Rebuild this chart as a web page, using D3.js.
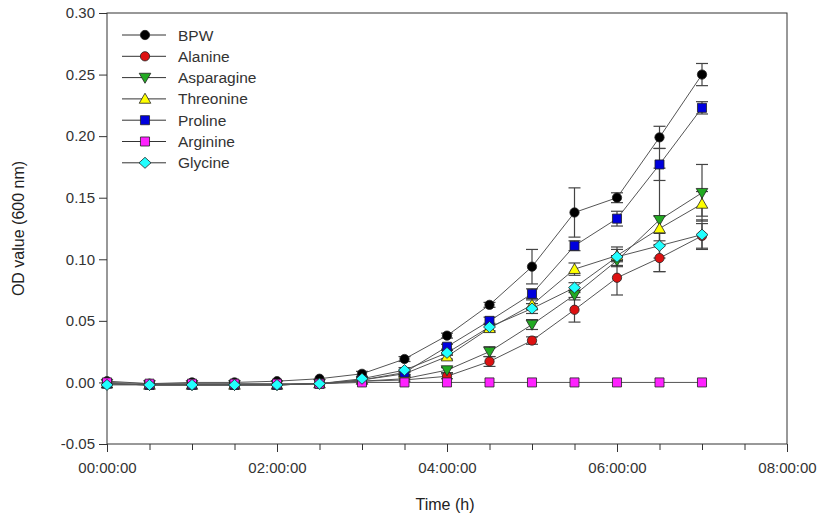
<!DOCTYPE html>
<html><head><meta charset="utf-8">
<script src="https://cdn.jsdelivr.net/npm/d3@7"></script>
<style>body{margin:0;background:#fff}svg{display:block}</style>
</head><body>
<script>
const timeHours = [0,0.5,1,1.5,2,2.5,3,3.5,4,4.5,5,5.5,6,6.5,7];
const seriesNames = ["BPW","Alanine","Asparagine","Threonine","Proline","Arginine","Glycine"];
const bpw        = [0.001,-0.001,0.000,0.000,0.001,0.003,0.007,0.019,0.038,0.063,0.094,0.138,0.150,0.199,0.250];
const alanine    = [-0.001,-0.002,-0.002,-0.002,-0.002,-0.001,0.001,0.002,0.005,0.017,0.034,0.059,0.085,0.101,0.119];
const asparagine = [-0.001,-0.002,-0.002,-0.002,-0.002,-0.001,0.001,0.003,0.010,0.025,0.047,0.071,0.099,0.132,0.154];
const threonine  = [-0.001,-0.002,-0.002,-0.002,-0.002,-0.001,0.002,0.007,0.021,0.044,0.063,0.092,0.103,0.125,0.145];
const proline    = [-0.001,-0.002,-0.002,-0.002,-0.002,-0.001,0.002,0.008,0.029,0.050,0.072,0.111,0.133,0.177,0.223];
const arginine   = [0.000,-0.001,-0.001,-0.001,-0.001,-0.001,0.000,0.000,0.000,0.000,0.000,0.000,0.000,0.000,0.000];
const glycine    = [-0.002,-0.002,-0.002,-0.002,-0.002,-0.001,0.003,0.010,0.024,0.045,0.060,0.077,0.102,0.111,0.120];
const bpwErr        = [0.001,0.001,0.001,0.001,0.001,0.001,0.002,0.002,0.002,0.002,0.014,0.020,0.004,0.009,0.009];
const alanineErr    = [0.001,0.001,0.001,0.001,0.001,0.001,0.001,0.001,0.002,0.004,0.003,0.010,0.014,0.011,0.010];
const asparagineErr = [0.001,0.001,0.001,0.001,0.001,0.001,0.001,0.002,0.002,0.004,0.004,0.004,0.004,0.042,0.023];
const threonineErr  = [0.001,0.001,0.001,0.001,0.001,0.001,0.001,0.002,0.002,0.003,0.004,0.005,0.005,0.010,0.010];
const prolineErr    = [0.001,0.001,0.001,0.001,0.001,0.001,0.001,0.002,0.002,0.003,0.004,0.004,0.006,0.013,0.005];
const arginineErr   = [0,0,0,0,0,0,0,0,0,0,0,0,0,0,0];
const glycineErr    = [0.001,0.001,0.001,0.001,0.001,0.001,0.001,0.002,0.002,0.003,0.004,0.004,0.008,0.010,0.012];
const yTicks = [-0.05,0,0.05,0.10,0.15,0.20,0.25,0.30];
const yTickLabels = ["-0.05","0.00","0.05","0.10","0.15","0.20","0.25","0.30"];
const xTicks = [0,2,4,6,8];
const xTickLabels = ["00:00:00","02:00:00","04:00:00","06:00:00","08:00:00"];
const xMinorTicks = [0,0.5,1,1.5,2,2.5,3,3.5,4,4.5,5,5.5,6,6.5,7,7.5,8];

const values = [bpw,alanine,asparagine,threonine,proline,arginine,glycine];
const errors = [bpwErr,alanineErr,asparagineErr,threonineErr,prolineErr,arginineErr,glycineErr];
const colors = ["#000000","#dd1111","#22aa22","#ffff00","#0000dd","#ff22ff","#22ffff"];
const shapes = ["circle","circle","tridown","triup","square","square","diamond"];

const W=828,H=517;
const L=107,R=787,T=13,B=444;
const x = d3.scaleLinear().domain([0,8]).range([L,R]);
const y = d3.scaleLinear().domain([-0.05,0.30]).range([B,T]);
const svg = d3.select("body").append("svg").attr("width",W).attr("height",H);
const font = "'Liberation Sans', Arial, sans-serif";

function symPath(s){
  switch(s){
    case "circle": return d3.symbol(d3.symbolCircle,68)();
    case "tridown": return d3.symbol(d3.symbolTriangle,58)();
    case "triup": return d3.symbol(d3.symbolTriangle,58)();
    case "square": return d3.symbol(d3.symbolSquare,82)();
    case "diamond": return "M0,-5.5L6,0L0,5.5L-6,0Z";
  }
}
function drawMarker(g,i,cx,cy){
  const s = shapes[i];
  let tr = `translate(${cx},${cy})`;
  if(s==="tridown") tr += " rotate(180) translate(0,1)";
  if(s==="triup") tr += " translate(0,1)";
  g.append("path").attr("d",symPath(s)).attr("transform",tr)
    .attr("fill",colors[i]).attr("stroke","#222").attr("stroke-width",0.8);
}

// frame
svg.append("rect").attr("x",L).attr("y",T).attr("width",R-L).attr("height",B-T)
  .attr("fill","none").attr("stroke","#333").attr("stroke-width",1);

// axes
const yAxis = d3.axisLeft(y).tickValues(yTicks).tickSize(8).tickFormat((d,i)=>yTickLabels[i]);
const ga = svg.append("g").attr("transform",`translate(${L},0)`).call(yAxis);
ga.select(".domain").remove();
ga.selectAll("line").attr("stroke","#333");
ga.selectAll("text").attr("font-family",font).attr("font-size",15).attr("fill","#333").attr("dx",-1);

const xMinor = d3.axisBottom(x).tickValues(xMinorTicks).tickSize(6).tickFormat("");
const gm = svg.append("g").attr("transform",`translate(0,${B})`).call(xMinor);
gm.select(".domain").remove(); gm.selectAll("line").attr("stroke","#333");
const xAxis = d3.axisBottom(x).tickValues(xTicks).tickSize(8).tickFormat((d,i)=>xTickLabels[i]);
const gx = svg.append("g").attr("transform",`translate(0,${B})`).call(xAxis);
gx.select(".domain").remove();
gx.selectAll("line").attr("stroke","#333");
gx.selectAll("text").attr("font-family",font).attr("font-size",15).attr("fill","#333").attr("dy","1.2em");

svg.append("text").attr("x",(L+R)/2-2).attr("y",510).attr("text-anchor","middle")
  .attr("font-family",font).attr("font-size",16).attr("fill","#222").text("Time (h)");
svg.append("text").attr("transform",`translate(24,${(T+B)/2}) rotate(-90)`).attr("text-anchor","middle")
  .attr("font-family",font).attr("font-size",16).attr("fill","#222").text("OD value (600 nm)");

// lines
const line = d3.line().x((d,i)=>x(timeHours[i])).y(d=>y(d));
values.forEach((v,i)=>{
  svg.append("path").datum(v).attr("d",line).attr("fill","none").attr("stroke","#555").attr("stroke-width",1);
});
// error bars
values.forEach((v,i)=>{
  const g = svg.append("g").attr("stroke","#444").attr("stroke-width",1.2);
  v.forEach((d,j)=>{
    const e = errors[i][j]; if(e<=0.0015) return;
    const cx = x(timeHours[j]);
    g.append("line").attr("x1",cx).attr("x2",cx).attr("y1",y(d-e)).attr("y2",y(d+e));
    g.append("line").attr("x1",cx-6).attr("x2",cx+6).attr("y1",y(d-e)).attr("y2",y(d-e));
    g.append("line").attr("x1",cx-6).attr("x2",cx+6).attr("y1",y(d+e)).attr("y2",y(d+e));
  });
});
// markers
values.forEach((v,i)=>{
  const g = svg.append("g");
  v.forEach((d,j)=>drawMarker(g,i,x(timeHours[j]),y(d)));
});

// legend
const lg = svg.append("g");
seriesNames.forEach((n,i)=>{
  const yy = 35 + i*21.3;
  lg.append("line").attr("x1",122).attr("x2",166).attr("y1",yy).attr("y2",yy).attr("stroke","#333").attr("stroke-width",1);
  drawMarker(lg,i,145,yy);
  lg.append("text").attr("x",178).attr("y",yy).attr("dy","0.36em").attr("font-family",font)
    .attr("font-size",15.5).attr("fill","#333").text(n);
});
</script>
</body></html>
